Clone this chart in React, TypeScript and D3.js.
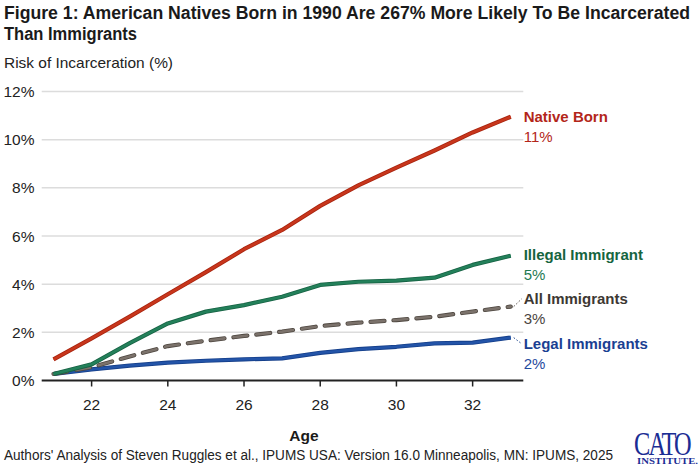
import React from "react";
import * as d3 from "d3";

const ages = [21, 22, 23, 24, 25, 26, 27, 28, 29, 30, 31, 32, 33];
const nativeBorn = [0.88, 1.75, 2.65, 3.58, 4.5, 5.45, 6.25, 7.25, 8.1, 8.84, 9.55, 10.3, 10.95];
const illegalImmigrant = [0.27, 0.67, 1.55, 2.37, 2.86, 3.13, 3.48, 3.97, 4.1, 4.15, 4.27, 4.8, 5.18];
const allImmigrants = [0.27, 0.55, 1.0, 1.43, 1.65, 1.85, 2.03, 2.26, 2.4, 2.51, 2.65, 2.86, 3.07];
const legalImmigrants = [0.27, 0.46, 0.62, 0.74, 0.82, 0.88, 0.92, 1.15, 1.3, 1.4, 1.54, 1.57, 1.78];

const yTicks = [0, 2, 4, 6, 8, 10, 12];
const xTicks = [22, 24, 26, 28, 30, 32];

const seriesNames = ["Native Born", "Illegal Immigrant", "All Immigrants", "Legal Immigrants"];
const seriesValueLabels = ["11%", "5%", "3%", "2%"];

const titleLine1 = "Figure 1: American Natives Born in 1990 Are 267% More Likely To Be Incarcerated";
const titleLine2 = "Than Immigrants";
const subtitle = "Risk of Incarceration (%)";
const xTitle = "Age";
const source = "Authors' Analysis of Steven Ruggles et al., IPUMS USA: Version 16.0 Minneapolis, MN: IPUMS, 2025";

const W = 700;
const H = 469;

export default function App() {
  const x = d3.scaleLinear().domain([20.69, 33.33]).range([41.7, 523.3]);
  const y = d3.scaleLinear().domain([0, 12]).range([380.5, 91.5]);
  const line = d3
    .line<number>()
    .x((_, i) => x(ages[i]))
    .y((d) => y(d));

  const series = [
    { name: seriesNames[0], pct: seriesValueLabels[0], values: nativeBorn, stroke: "#c8361c", edge: "#a8240f", text: "#b3261a", pctColor: "#b3261a", dash: null, labelBase: 122.3 },
    { name: seriesNames[1], pct: seriesValueLabels[1], values: illegalImmigrant, stroke: "#23805a", edge: "#176244", text: "#16653f", pctColor: "#1e7a52", dash: null, labelBase: 260 },
    { name: seriesNames[2], pct: seriesValueLabels[2], values: allImmigrants, stroke: "#7b726b", edge: "#4e4740", text: "#3d3833", pctColor: "#4a4540", dash: "14 9", labelBase: 304.3 },
    { name: seriesNames[3], pct: seriesValueLabels[3], values: legalImmigrants, stroke: "#2354a8", edge: "#153f8a", text: "#1b3f92", pctColor: "#1f4a9e", dash: null, labelBase: 349.3 },
  ];

  const sans = "'Liberation Sans', Arial, sans-serif";
  const serif = "'Liberation Serif', 'DejaVu Serif', serif";
  const labelX = 523.7;

  return (
    <svg width={W} height={H} style={{ position: "absolute", left: 0, top: 0 }} fontFamily={sans}>
      <rect x={0} y={0} width={W} height={H} fill="#ffffff" />
      <text x={4} y={19} fontSize={17.5} fontWeight="bold" fill="#1a1a1a" textLength={686} lengthAdjust="spacingAndGlyphs">
        {titleLine1}
      </text>
      <text x={4} y={40} fontSize={17.5} fontWeight="bold" fill="#1a1a1a" textLength={133} lengthAdjust="spacingAndGlyphs">
        {titleLine2}
      </text>
      <text x={4} y={68.3} fontSize={15} fill="#222" textLength={169} lengthAdjust="spacingAndGlyphs">
        {subtitle}
      </text>

      {yTicks.map((t) => (
        <g key={"gy" + t}>
          {t !== 0 && (
            <line x1={41.7} x2={523.3} y1={y(t)} y2={y(t)} stroke="#dcdcdc" strokeWidth={1.5} />
          )}
          <text x={34.5} y={y(t) + 5.5} fontSize={15.5} textAnchor="end" fill="#222">
            {t + "%"}
          </text>
        </g>
      ))}

      {xTicks.map((t) => (
        <g key={"gx" + t}>
          <line x1={x(t)} x2={x(t)} y1={380.5} y2={386.5} stroke="#222" strokeWidth={1.5} />
          <text x={x(t)} y={409.5} fontSize={15.5} textAnchor="middle" fill="#222">
            {t}
          </text>
        </g>
      ))}
      <line x1={41.7} x2={523.3} y1={380.5} y2={380.5} stroke="#222" strokeWidth={2} />

      {series
        .slice()
        .reverse()
        .map((s) => (
          <g key={s.name}>
            <path
              d={line(s.values) || ""}
              fill="none"
              stroke={s.edge}
              strokeWidth={4.2}
              strokeDasharray={s.dash || undefined}
              strokeLinecap={s.dash ? "round" : "butt"}
              strokeLinejoin="round"
            />
            <path
              d={line(s.values) || ""}
              fill="none"
              stroke={s.stroke}
              strokeWidth={2.6}
              strokeDasharray={s.dash || undefined}
              strokeLinecap={s.dash ? "round" : "butt"}
              strokeLinejoin="round"
            />
          </g>
        ))}

      {series.map((s) => {
        const last = s.values[s.values.length - 1];
        const ex = x(ages[ages.length - 1]);
        const ey = y(last);
        const ty = s.labelBase - 5.5;
        return (
          <g key={"lab" + s.name}>
            {Math.abs(ey - ty) > 2 && (
              <line x1={ex + 3} y1={ey} x2={labelX - 2} y2={ty} stroke={s.edge} strokeWidth={1} strokeDasharray="1.5 2" />
            )}
            <text x={labelX} y={s.labelBase} fontSize={15} fontWeight="bold" fill={s.text}>
              {s.name}
            </text>
            <text x={labelX} y={s.labelBase + 20} fontSize={15} fill={s.pctColor}>
              {s.pct}
            </text>
          </g>
        );
      })}

      <text x={304} y={440.5} fontSize={15.5} fontWeight="bold" textAnchor="middle" fill="#1a1a1a">
        {xTitle}
      </text>
      <text x={4} y={460} fontSize={14} fill="#222" textLength={609} lengthAdjust="spacingAndGlyphs">
        {source}
      </text>

      <g transform="translate(634,455) scale(0.74,1)">
        <text x={0} y={0} fontSize={33} fontFamily={serif} fill="#1b2d94" letterSpacing={-2.5}>
          CATO
        </text>
      </g>
      <g transform="translate(637,463.5) scale(1.26,1)">
        <text x={0} y={0} fontSize={8.5} fontWeight="bold" fontFamily={serif} fill="#1b2d94">
          INSTITUTE.
        </text>
      </g>
    </svg>
  );
}
